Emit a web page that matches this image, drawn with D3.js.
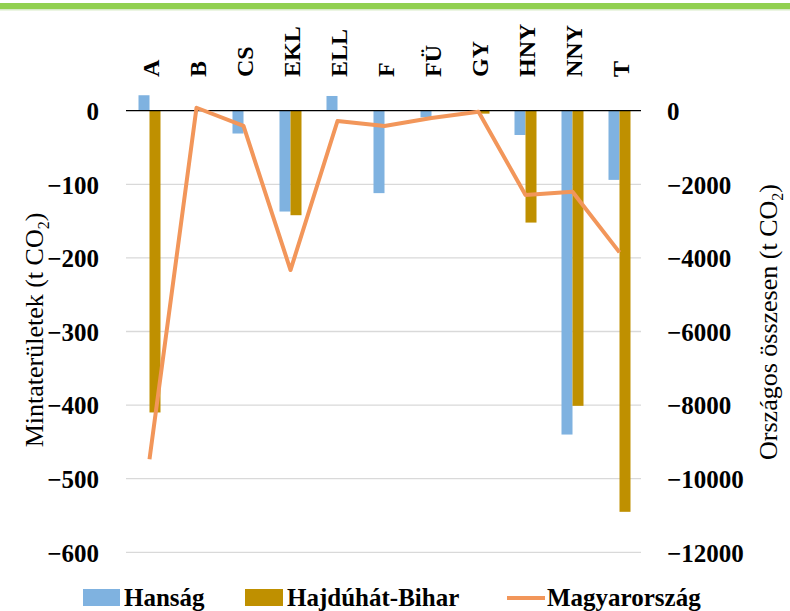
<!DOCTYPE html>
<html><head><meta charset="utf-8">
<script src="https://cdn.jsdelivr.net/npm/d3@7/dist/d3.min.js"></script>
<style>body{margin:0;background:#fff}svg{display:block}</style>
</head><body>
<script>
const categories = ["A","B","CS","EKL","ELL","F","FÜ","GY","HNY","NNY","T"];
const hansag = [21, 0, -31, -137, 20, -112, -9, 0, -33, -440, -94];
const hajdu = [-410, 0, 0, -142, 0, 0, 0, -4, -152, -401, -545];
const magyar = [-9470, 80, -415, -4330, -280, -416, -200, -27, -2290, -2200, -3850];
const leftTicks = [0, -100, -200, -300, -400, -500, -600];
const rightTicks = [0, -2000, -4000, -6000, -8000, -10000, -12000];

const W = 790, H = 611;
const FF = "'Liberation Serif', 'DejaVu Serif', serif";
const svg = d3.select("body").append("svg").attr("width", W).attr("height", H);

svg.append("rect").attr("x",0).attr("y",3).attr("width",W).attr("height",6).attr("fill","#92d050");
svg.append("rect").attr("x",0).attr("y",9).attr("width",W).attr("height",1.5).attr("fill","#d8ebc6");

const x = d3.scaleBand().domain(categories).range([126, 643]).paddingInner(0).paddingOuter(0);
const yL = d3.scaleLinear().domain([-600, 0]).range([552.3, 110.7]);
const yR = d3.scaleLinear().domain([-12000, 0]).range([552.3, 110.7]);
const bw = 11;

svg.append("g").selectAll("line").data(leftTicks.filter(d=>d!==0)).join("line")
  .attr("x1",126).attr("x2",641).attr("y1",d=>yL(d)).attr("y2",d=>yL(d))
  .attr("stroke","#d9d9d9").attr("stroke-width",1.3);

svg.append("g").selectAll("rect").data(categories).join("rect")
  .attr("x", d=>x(d)+x.bandwidth()/2 - bw)
  .attr("width", bw)
  .attr("y", (d,i)=>yL(Math.max(0,hansag[i])))
  .attr("height", (d,i)=>Math.abs(yL(hansag[i])-yL(0)))
  .attr("fill","#7fb2e0");
svg.append("g").selectAll("rect").data(categories).join("rect")
  .attr("x", d=>x(d)+x.bandwidth()/2)
  .attr("width", bw)
  .attr("y", (d,i)=>yL(Math.max(0,hajdu[i])))
  .attr("height", (d,i)=>Math.abs(yL(hajdu[i])-yL(0)))
  .attr("fill","#bf9000");

svg.append("line").attr("x1",126).attr("x2",641).attr("y1",yL(0)).attr("y2",yL(0))
  .attr("stroke","#000").attr("stroke-width",1.3);

const line = d3.line().x((d,i)=>x(categories[i])+x.bandwidth()/2).y(d=>yR(d));
svg.append("path").datum(magyar).attr("d", line).attr("fill","none")
  .attr("stroke","#f2965a").attr("stroke-width",4).attr("stroke-linejoin","round");

function styleTicks(g){
  g.select(".domain").remove();
  g.attr("font-family", FF).attr("font-size", 25).attr("font-weight","bold");
  g.selectAll("text").style("font-family", FF).style("font-weight","bold")
    .style("font-size","25px").attr("fill","#000").attr("dy","0.35em");
}
const axL = d3.axisLeft(yL).tickValues(leftTicks).tickSize(0).tickPadding(0).tickFormat(d3.format("d"));
svg.append("g").attr("transform","translate(99,0)").call(axL).call(styleTicks);
const axR = d3.axisRight(yR).tickValues(rightTicks).tickSize(0).tickPadding(0).tickFormat(d3.format("d"));
svg.append("g").attr("transform","translate(667,0)").call(axR).call(styleTicks);

svg.append("g").selectAll("text").data(categories).join("text")
  .attr("transform", d=>`translate(${x(d)+x.bandwidth()/2+1},77) rotate(-90)`)
  .attr("dy","0.35em")
  .style("font-family", FF).style("font-weight","bold").style("font-size","24px").attr("fill","#000")
  .text(d=>d);

function title(tx, ty, label){
  const t = svg.append("text").attr("transform",`translate(${tx},${ty}) rotate(-90)`)
    .attr("text-anchor","middle").attr("dy","0.35em")
    .style("font-family", FF).style("font-size","26px").attr("fill","#000");
  t.append("tspan").text(label);
  t.append("tspan").style("font-size","16px").attr("dy","6").text("2");
  t.append("tspan").attr("dy","-6").text(")");
}
title(34, 330, "Mintaterületek (t CO");
title(768, 322, "Országos összesen (t CO");

const leg = svg.append("g");
function legText(xx, s){
  leg.append("text").attr("x",xx).attr("y",606).style("font-family", FF)
    .style("font-weight","bold").style("font-size","25px").attr("fill","#000").text(s);
}
leg.append("rect").attr("x",83).attr("y",589).attr("width",37).attr("height",17).attr("fill","#7fb2e0");
legText(124, "Hanság");
leg.append("rect").attr("x",245).attr("y",589).attr("width",38).attr("height",17).attr("fill","#bf9000");
legText(287, "Hajdúhát-Bihar");
leg.append("line").attr("x1",507).attr("x2",545).attr("y1",598).attr("y2",598).attr("stroke","#f2965a").attr("stroke-width",4);
legText(547, "Magyarország");
</script>
</body></html>
